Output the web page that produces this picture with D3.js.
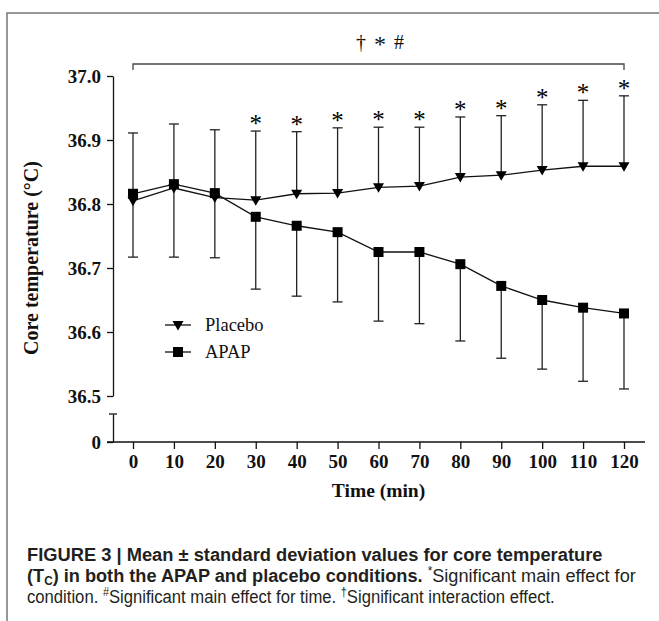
<!DOCTYPE html>
<html><head><meta charset="utf-8">
<script src="https://cdn.jsdelivr.net/npm/d3@7"></script>
<style>body{margin:0;background:#fff}svg{display:block}</style>
</head><body>
<svg id="c" width="659" height="621"></svg>
<script>
// ---- data ----
const times = [0,10,20,30,40,50,60,70,80,90,100,110,120];
const xTickLabels = ["0","10","20","30","40","50","60","70","80","90","100","110","120"];
const yTicks = [36.5,36.6,36.7,36.8,36.9,37.0];
const placeboMean = [36.805,36.825,36.810,36.806,36.816,36.817,36.826,36.828,36.842,36.845,36.853,36.859,36.859];
const placeboSD   = [0.106,0.100,0.106,0.108,0.097,0.102,0.094,0.092,0.094,0.093,0.102,0.103,0.110];
const apapMean    = [36.816,36.831,36.817,36.780,36.766,36.756,36.725,36.725,36.706,36.672,36.650,36.638,36.629];
const apapSD      = [0.099,0.114,0.101,0.113,0.110,0.109,0.108,0.112,0.120,0.113,0.108,0.115,0.118];
const conditionSig = [false,false,false,true,true,true,true,true,true,true,true,true,true];
const seriesNames = ["Placebo","APAP"];
const topSymbols = ["\u2020","*","#"];

const svg = d3.select("#c");
const serif = "'Liberation Serif','Times New Roman',serif";
const ink = "#111";

// frame
svg.append("path").attr("d","M7,621V13H659").attr("fill","none").attr("stroke","#777").attr("stroke-width",1.5);

const xs = d3.scaleLinear().domain([0,120]).range([133,624]);
const ys = d3.scaleLinear().domain([36.5,37.0]).range([396,76]);
const y0 = d3.scaleLinear().domain([0,1]).range([442,414]);
const axisX = 113;

function styleAxis(g){
  g.attr("font-family",serif).attr("font-weight","bold").attr("font-size",19);
  g.selectAll("path,line").attr("stroke",ink).attr("stroke-width",1.3);
  g.selectAll("text").attr("fill",ink);
}

// y axis upper
svg.append("g").attr("transform",`translate(${axisX},0)`)
  .call(d3.axisLeft(ys).tickValues(yTicks).tickFormat(d3.format(".1f")).tickSize(6).tickSizeOuter(0).tickPadding(6))
  .call(styleAxis);
// y axis lower segment
const gl = svg.append("g").attr("transform",`translate(${axisX},0)`)
  .call(d3.axisLeft(y0).tickValues([0]).tickFormat(()=>"0").tickSize(6).tickSizeOuter(0).tickPadding(6))
  .call(styleAxis);
gl.append("line").attr("x1",-4).attr("x2",4).attr("y1",y0.range()[1]).attr("y2",y0.range()[1]).attr("stroke",ink).attr("stroke-width",1.3);

// x axis
const gx = svg.append("g").attr("transform",`translate(0,${y0(0)})`)
  .call(d3.axisBottom(xs).tickValues(times).tickFormat((d,i)=>xTickLabels[i]).tickSize(7).tickSizeOuter(0).tickPadding(6))
  .call(styleAxis);
gx.select(".domain").remove();
gx.append("line").attr("x1",axisX-6).attr("x2",645).attr("y1",0).attr("y2",0).attr("stroke",ink).attr("stroke-width",1.3);

// axis titles
svg.append("text").attr("x",(xs(0)+xs(120))/2).attr("y",497).attr("text-anchor","middle")
  .attr("font-family",serif).attr("font-weight","bold").attr("font-size",19.5).attr("fill",ink).text("Time (min)");
svg.append("text").attr("transform",`translate(38,${(ys(37)+ys(36.5))/2 + 22}) rotate(-90)`).attr("text-anchor","middle")
  .attr("font-family",serif).attr("font-weight","bold").attr("font-size",20).attr("fill",ink).text("Core temperature (\u00B0C)");

// bracket + symbols
svg.append("path").attr("d",`M${xs(0)},70V64H${xs(120)}V70`).attr("fill","none").attr("stroke","#444").attr("stroke-width",1.3);
svg.append("g").selectAll("text").data(topSymbols).join("text")
  .attr("x",(d,i)=>361+i*19).attr("y",(d,i)=>i===1?52:49).attr("text-anchor","middle")
  .attr("font-family",serif).attr("font-size",(d,i)=>i===1?24:20).attr("fill",ink).text(d=>d);

// error bars
const cap = 5;
function errBars(mean, sd, dir){
  const g = svg.append("g").attr("stroke","#222").attr("stroke-width",1.3);
  times.forEach((t,i)=>{
    const yEnd = ys(mean[i] + dir*sd[i]);
    g.append("line").attr("x1",xs(t)).attr("x2",xs(t)).attr("y1",ys(mean[i])).attr("y2",yEnd);
    g.append("line").attr("x1",xs(t)-cap).attr("x2",xs(t)+cap).attr("y1",yEnd).attr("y2",yEnd);
  });
}
errBars(placeboMean, placeboSD, 1);
errBars(apapMean, apapSD, -1);

// lines
const line = d3.line().x((d,i)=>xs(times[i])).y(d=>ys(d));
svg.append("path").datum(placeboMean).attr("d",line).attr("fill","none").attr("stroke",ink).attr("stroke-width",1.3);
svg.append("path").datum(apapMean).attr("d",line).attr("fill","none").attr("stroke",ink).attr("stroke-width",1.3);

// markers
const tri = "M-5.5,-4L5.5,-4L0,5.5Z";
svg.append("g").selectAll("rect").data(apapMean).join("rect")
  .attr("x",(d,i)=>xs(times[i])-5).attr("y",d=>ys(d)-5).attr("width",10).attr("height",10).attr("fill","#000");
svg.append("g").selectAll("path").data(placeboMean).join("path")
  .attr("d",tri).attr("transform",(d,i)=>`translate(${xs(times[i])},${ys(d)})`).attr("fill","#000");

// significance stars
svg.append("g").selectAll("text").data(times.filter((t,i)=>conditionSig[i])).join("text")
  .attr("x",d=>xs(d)).attr("y",d=>{const i=times.indexOf(d);return ys(placeboMean[i]+placeboSD[i]) + 1;})
  .attr("text-anchor","middle").attr("font-family",serif).attr("font-size",25).attr("fill","#000").text("*");

// legend
const lg = svg.append("g");
[[325,"tri"],[352,"sq"]].forEach(([ly,m],k)=>{
  lg.append("line").attr("x1",165).attr("x2",191).attr("y1",ly).attr("y2",ly).attr("stroke",ink).attr("stroke-width",1.3);
  if(m==="tri") lg.append("path").attr("d",tri).attr("transform",`translate(178,${ly})`).attr("fill","#000");
  else lg.append("rect").attr("x",173).attr("y",ly-5).attr("width",10).attr("height",10).attr("fill","#000");
  lg.append("text").attr("x",205).attr("y",ly+6).attr("font-family",serif).attr("font-size",18.5).attr("fill",ink).text(seriesNames[k]);
});

// caption
const sans = "'Liberation Sans',Arial,Helvetica,sans-serif";
const capLines = [
  {y:561, w:576, parts:[{t:"FIGURE 3 | Mean \u00B1 standard deviation values for core temperature",b:1}]},
  {y:582, w:609, parts:[{t:"(T",b:1},{t:"C",b:1,sub:1},{t:") in both the APAP and placebo conditions.",b:1},{t:" ",b:0},{t:"*",b:0,sup:1},{t:"Significant main effect for",b:0}]},
  {y:603, w:528, parts:[{t:"condition. ",b:0},{t:"#",b:0,sup:1},{t:"Significant main effect for time. ",b:0},{t:"\u2020",b:0,sup:1},{t:"Significant interaction effect.",b:0}]}
];
capLines.forEach(L=>{
  const g = svg.append("g");
  const tx = g.append("text").attr("x",0).attr("y",0).attr("font-family",sans).attr("font-size",18.5).attr("fill","#231f20").attr("xml:space","preserve");
  let off=0;
  L.parts.forEach(p=>{
    const s = tx.append("tspan").attr("font-weight",p.b?"bold":"normal").text(p.t);
    const cur = p.sub?2.5:(p.sup?-7:0);
    if(p.sub) s.attr("font-size",12);
    else if(p.sup) s.attr("font-size",12);
    s.attr("dy",cur-off); off=cur;
  });
  const w = tx.node().getComputedTextLength();
  g.attr("transform",`translate(27,${L.y}) scale(${L.w/w},1)`);
});
</script>
</body></html>
